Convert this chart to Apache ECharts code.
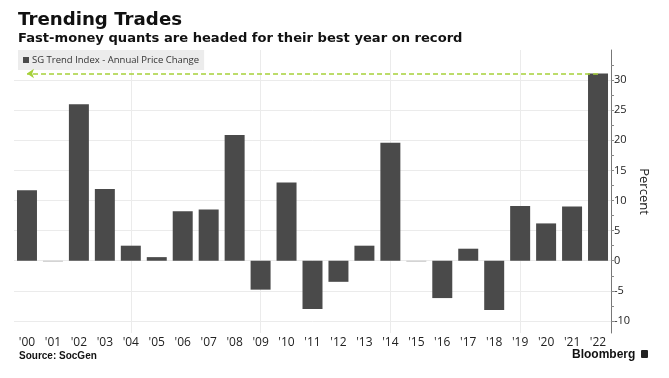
<!DOCTYPE html>
<html>
<head>
<meta charset="utf-8">
<script src="https://cdn.jsdelivr.net/npm/echarts@6/dist/echarts.min.js"></script>
<style>
html,body{margin:0;padding:0;background:#fff;}
#chart{width:669px;height:378px;}
</style>
</head>
<body>
<div id="chart"></div>
<script>
const years = ["'00","'01","'02","'03","'04","'05","'06","'07","'08","'09","'10","'11","'12","'13","'14","'15","'16","'17","'18","'19","'20","'21","'22"];
const values = [11.7, -0.15, 26.0, 11.9, 2.5, 0.6, 8.2, 8.5, 20.9, -4.8, 13.0, -8.0, -3.5, 2.5, 19.6, -0.15, -6.2, 2.0, -8.2, 9.1, 6.2, 9.0, 31.1];
const yTicks = [-10, -5, 0, 5, 10, 15, 20, 25, 30];
const yTickMarks = [-10, -7.5, -5, -2.5, 0, 2.5, 5, 7.5, 10, 12.5, 15, 17.5, 20, 22.5, 25, 27.5, 30, 32.5];
const vGridYears = ["'04","'09","'14","'19"];
const seriesName = 'SG Trend Index - Annual Price Change';
const titleText = 'Trending Trades';
const subtitleText = 'Fast-money quants are headed for their best year on record';
const sourceText = 'Source: SocGen';
const brandText = 'Bloomberg';

const chart = echarts.init(document.getElementById('chart'), null, {renderer: 'canvas'});
const last = values.length - 1;

const gridMarks = [];
vGridYears.forEach(y => gridMarks.push({xAxis: y}));
yTicks.forEach(v => gridMarks.push({yAxis: v}));

chart.setOption({
  animation: false,
  backgroundColor: '#ffffff',
  grid: {left: 14, right: 58, top: 50, bottom: 45, containLabel: false},
  legend: {
    data: [seriesName],
    left: 18, top: 50,
    icon: 'rect', itemWidth: 6, itemHeight: 6, itemGap: 4,
    backgroundColor: '#ececec',
    padding: [5, 5, 5, 5],
    textStyle: {fontFamily: 'Open Sans', fontSize: 9.5, color: '#333', padding: [0, 0, 0, -2]}
  },
  xAxis: {
    type: 'category',
    data: years,
    axisLine: {show: false, onZero: false},
    axisTick: {show: false},
    splitLine: {show: false},
    axisLabel: {fontFamily: 'Open Sans', fontSize: 12, color: '#222', margin: 4, interval: 0}
  },
  yAxis: {
    type: 'value',
    position: 'right',
    min: -12, max: 35,
    name: 'Percent',
    nameLocation: 'middle',
    nameRotate: -90,
    nameGap: 26,
    nameMoveOverlap: false,
    nameTextStyle: {fontFamily: 'Open Sans', fontSize: 13, color: '#222'},
    axisLine: {show: true, lineStyle: {color: '#777', width: 1}},
    axisTick: {show: true, length: 3, customValues: yTickMarks, lineStyle: {color: '#888'}},
    axisLabel: {customValues: yTicks, fontFamily: 'Open Sans', fontSize: 11, color: '#222', margin: 3},
    splitLine: {show: false}
  },
  graphic: [
    {type: 'text', x: 18, y: 20.5, style: {text: titleText, font: 'bold 18.2px "DejaVu Sans"', fill: '#111', verticalAlign: 'middle'}},
    {type: 'text', x: 18, y: 38.5, style: {text: subtitleText, font: 'bold 13.1px "DejaVu Sans"', fill: '#111', verticalAlign: 'middle'}},
    {type: 'text', left: 19, top: 351, style: {text: sourceText, font: 'bold 10px "Liberation Sans"', fill: '#111'}},
    {type: 'text', left: 572, top: 349, style: {text: brandText, font: 'bold 12px "Liberation Sans"', fill: '#111'}},
    {type: 'rect', left: 641, top: 350, shape: {width: 7, height: 8, r: 1}, style: {fill: '#222'}}
  ],
  series: [
    {
      name: seriesName,
      type: 'bar',
      data: values,
      color: '#4a4a4a',
      barCategoryGap: '23%',
      z: 2,
      itemStyle: {color: p => Math.abs(p.value) < 0.3 ? '#bdbdbd' : '#4a4a4a'},
      markLine: {
        silent: true, z: 1, symbol: ['none', 'none'],
        label: {show: false},
        lineStyle: {color: '#ebebeb', width: 1, type: 'solid'},
        data: gridMarks
      }
    },
    {
      name: 'arrow',
      type: 'line',
      data: [],
      z: 5,
      markLine: {
        silent: true, z: 6,
        symbol: ['none', 'arrow'], symbolSize: [7, 7],
        label: {show: false},
        lineStyle: {color: '#a6d13a', width: 1.5, type: [5, 3]},
        data: [[{coord: [last, values[last]]}, {coord: [0, values[last]]}]]
      }
    }
  ]
});
</script>
</body>
</html>
